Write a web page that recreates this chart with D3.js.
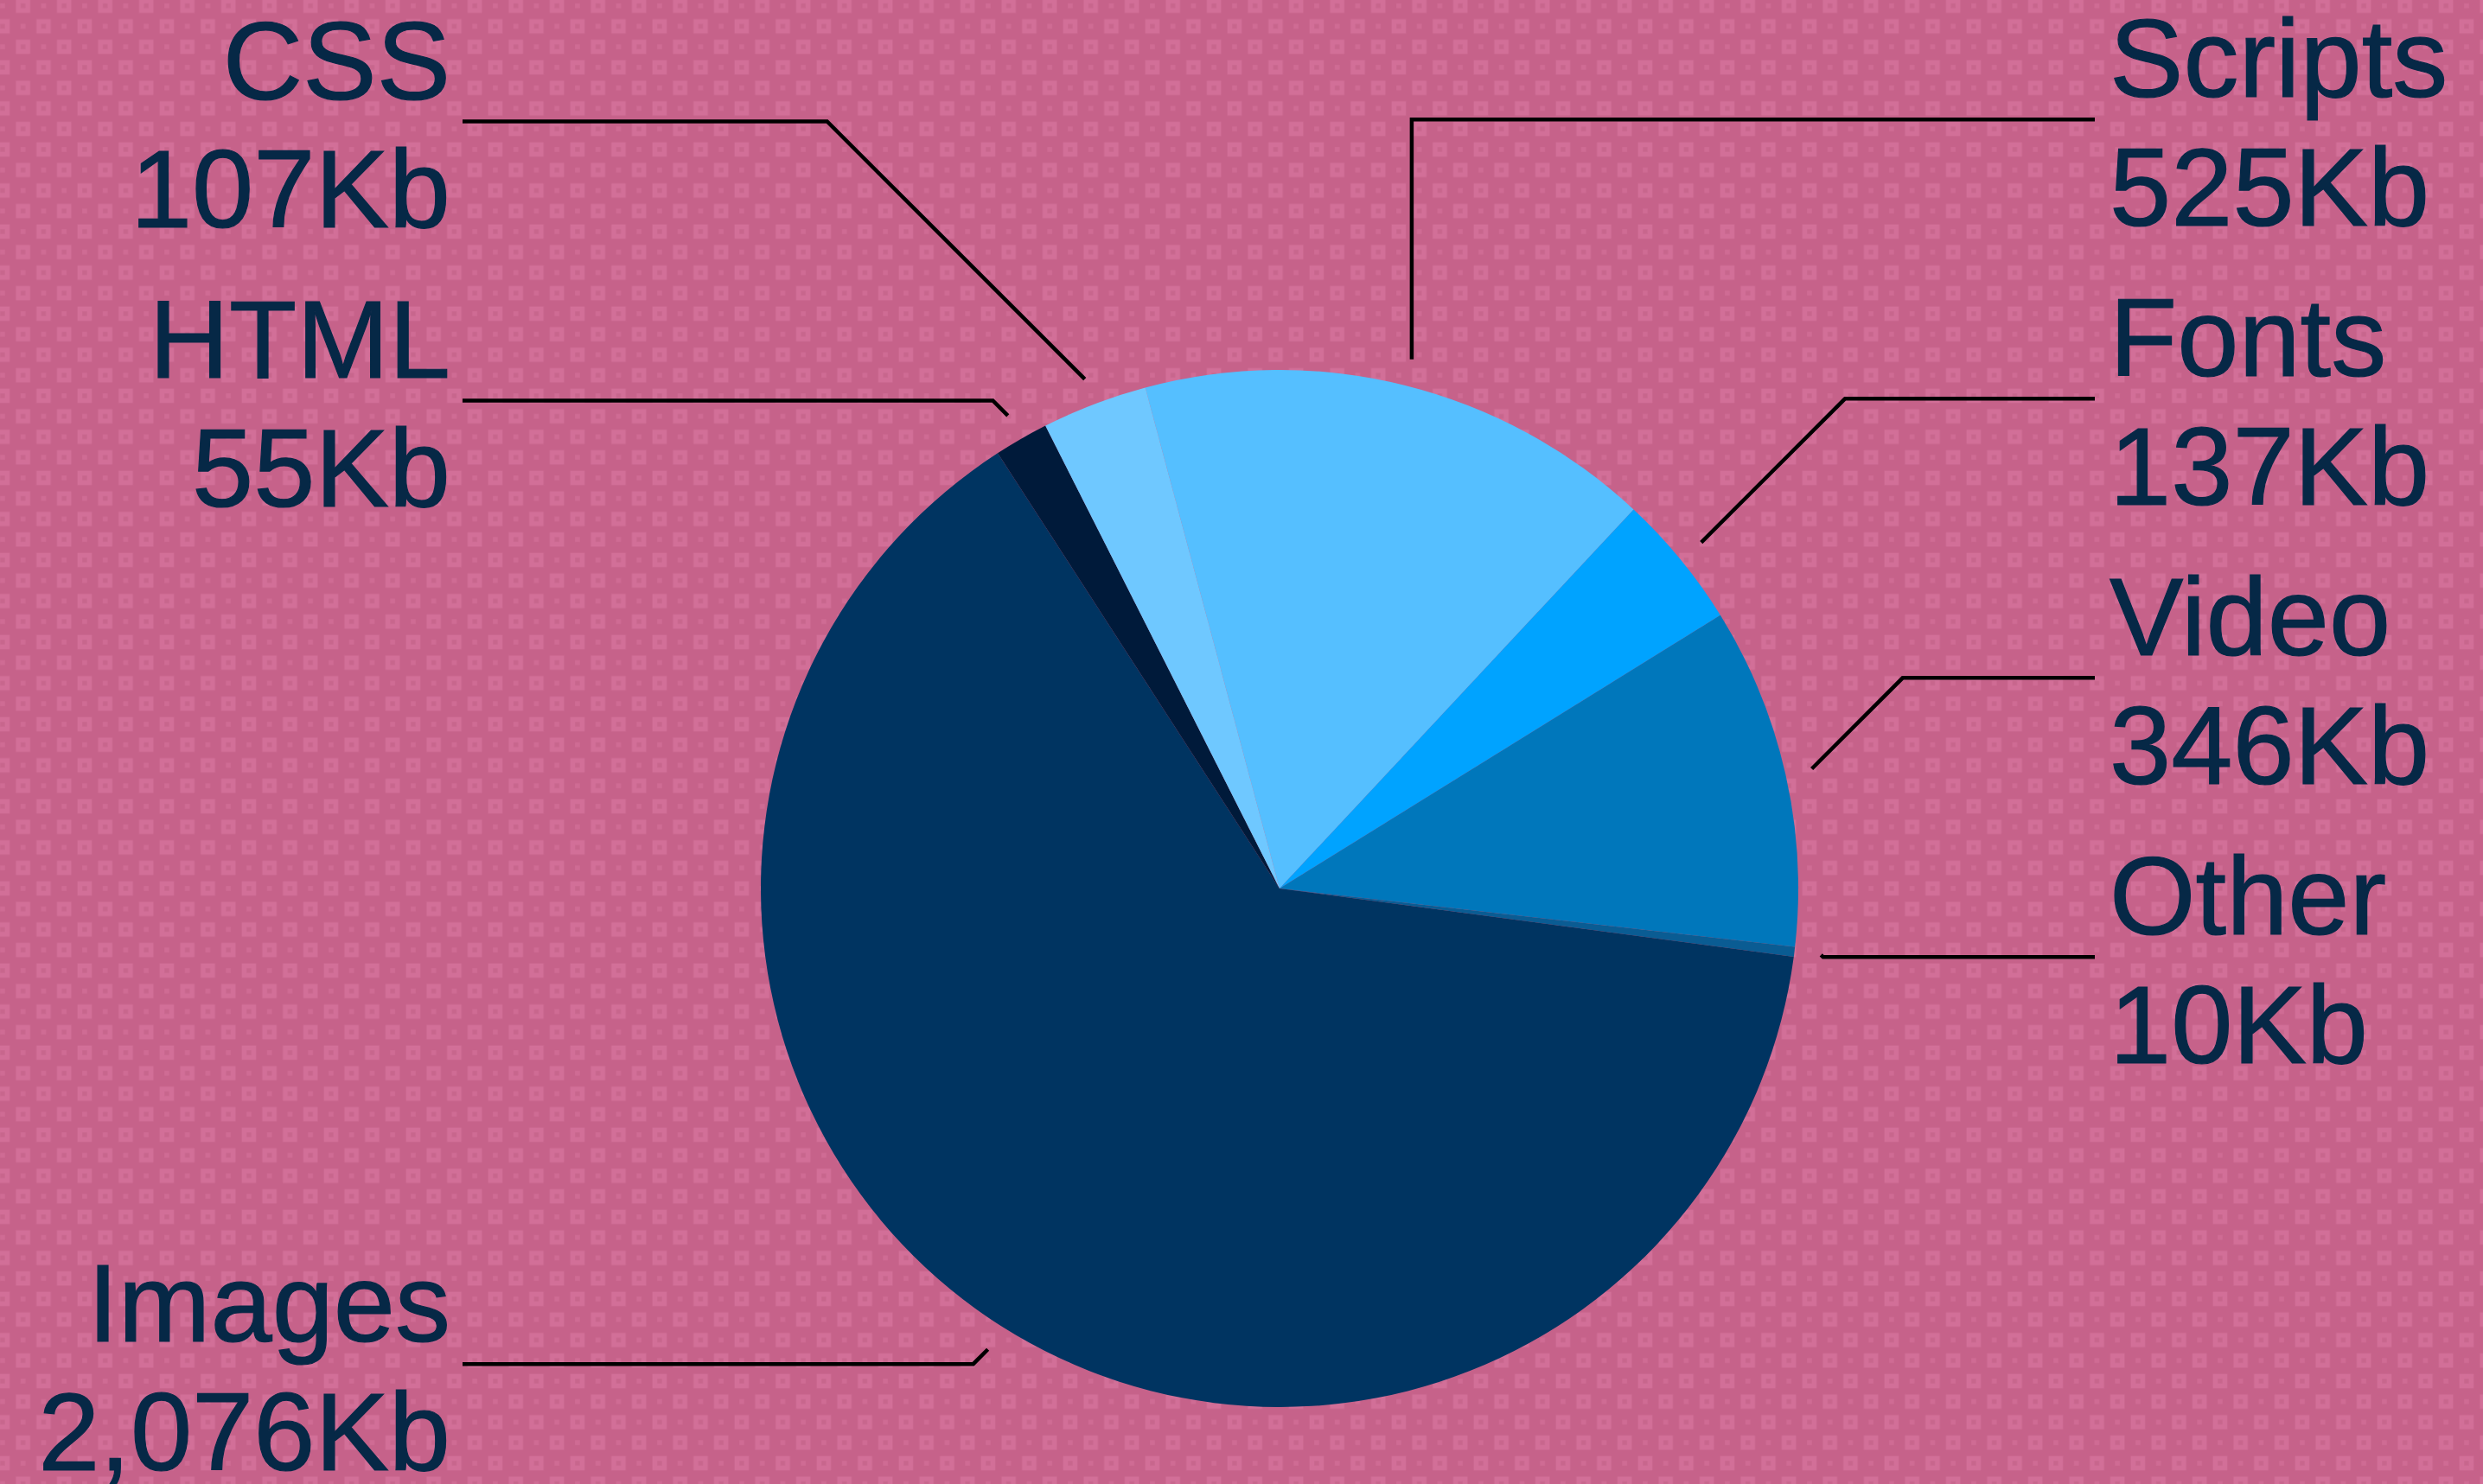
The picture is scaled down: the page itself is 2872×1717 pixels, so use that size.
<!DOCTYPE html>
<html>
<head>
<meta charset="utf-8">
<script src="https://cdn.jsdelivr.net/npm/d3@7"></script>
<style>
  html, body { margin: 0; padding: 0; overflow: hidden; background: #c6628a; }
  svg { display: block; }
</style>
</head>
<body>
<script>
// Page weight by resource type, in kilobytes (clockwise from the Scripts slice)
const categories = ["Scripts", "Fonts", "Video", "Other", "Images", "HTML", "CSS"];
const sizesKb    = [525, 137, 346, 10, 2076, 55, 107];
const sliceColors = ["#55bfff", "#00a3ff", "#0077bb", "#0a5c93", "#003461", "#001a3a", "#6fc8ff"];

const W = 2872, H = 1717;
const cx = 1480, cy = 1028, R = 600;
const anchorR = 631, elbowR = 651;   // leader line start / natural elbow radius
const rowGap = 323;                   // min vertical distance between label rows
const fontSize = 128;
const textColor = "#062846";

const svg = d3.select("body").append("svg")
  .attr("width", W).attr("height", H)
  .attr("viewBox", `0 0 ${W} ${H}`);

// ---- patterned backdrop: light squares with a dot inside, alternating with small dots
const tile = 47.5, half = tile / 2, q = tile / 4;
const defs = svg.append("defs");
const pat = defs.append("pattern")
  .attr("id", "backdrop")
  .attr("patternUnits", "userSpaceOnUse")
  .attr("x", 14.8).attr("y", -5.2)
  .attr("width", tile).attr("height", tile);
pat.append("rect").attr("width", tile).attr("height", tile).attr("fill", "#c6628a");
[[q, q], [q + half, q + half]].forEach(([x, y]) => {
  pat.append("rect").attr("x", x - 8.3).attr("y", y - 8.3).attr("width", 16.6).attr("height", 16.6).attr("fill", "#d26f98");
  pat.append("rect").attr("x", x - 2.7).attr("y", y - 2.7).attr("width", 5.4).attr("height", 5.4).attr("fill", "#c8668d");
});
[[q + half, q], [q, q + half]].forEach(([x, y]) => {
  pat.append("rect").attr("x", x - 2.8).attr("y", y - 2.8).attr("width", 5.6).attr("height", 5.6).attr("fill", "#cf6b94");
});
svg.append("rect").attr("width", W).attr("height", H).attr("fill", "url(#backdrop)");

// ---- pie
const data = categories.map((name, i) => ({ name, value: sizesKb[i], color: sliceColors[i] }));
const toRad = d => d * Math.PI / 180;
const pie = d3.pie().sort(null).value(d => d.value)
  .startAngle(toRad(-15)).endAngle(toRad(345));
const arcs = pie(data);

const arc = d3.arc().innerRadius(0).outerRadius(R);
const g = svg.append("g").attr("transform", `translate(${cx},${cy})`);
g.selectAll("path.slice").data(arcs).enter().append("path")
  .attr("class", "slice")
  .attr("d", arc)
  .attr("fill", d => d.data.color);

// ---- labels and leader lines
const fmt = d3.format(",");
const polar = (a, r) => [cx + r * Math.sin(a), cy - r * Math.cos(a)];

const labels = arcs.map(d => {
  const mid = (d.startAngle + d.endAngle) / 2;
  const anchor = polar(mid, anchorR);
  const elbow = polar(mid, elbowR);
  return { d, mid, anchor, y: elbow[1], side: Math.sin(mid) >= 0 ? "right" : "left" };
});

// resolve overlaps on each side, keeping lower labels where they are and pushing upper ones up
["left", "right"].forEach(side => {
  const list = labels.filter(l => l.side === side).sort((a, b) => a.y - b.y);
  for (let i = list.length - 2; i >= 0; i--) {
    list[i].y = Math.min(list[i].y, list[i + 1].y - rowGap);
  }
});

const colX = { left: { line: 535, text: 521 }, right: { line: 2423, text: 2440 } };
const lines = svg.append("g").attr("class", "leaders");
const texts = svg.append("g").attr("class", "labels")
  .attr("font-family", "'Liberation Sans', Arial, Helvetica, sans-serif")
  .attr("font-size", fontSize)
  .attr("fill", textColor)
  .attr("stroke", textColor)
  .attr("stroke-width", 1.2);

labels.forEach(l => {
  const sign = l.side === "right" ? 1 : -1;
  const dy = Math.abs(l.y - l.anchor[1]);
  const nearTop = Math.abs(Math.sin(l.mid)) < 0.3;
  const elbowX = nearTop ? l.anchor[0] : l.anchor[0] + sign * dy;
  const pts = [l.anchor, [elbowX, l.y], [colX[l.side].line, l.y]];
  lines.append("path")
    .attr("d", d3.line()(pts))
    .attr("fill", "none")
    .attr("stroke", "#000")
    .attr("stroke-width", 4.5)
    .attr("stroke-linejoin", "miter");

  const t = texts.append("text")
    .attr("x", colX[l.side].text)
    .attr("text-anchor", l.side === "right" ? "start" : "end");
  t.append("tspan").attr("x", colX[l.side].text).attr("y", l.y - 26).text(l.d.data.name);
  t.append("tspan").attr("x", colX[l.side].text).attr("y", l.y + 123).text(fmt(l.d.data.value) + "Kb");
});
</script>
</body>
</html>
